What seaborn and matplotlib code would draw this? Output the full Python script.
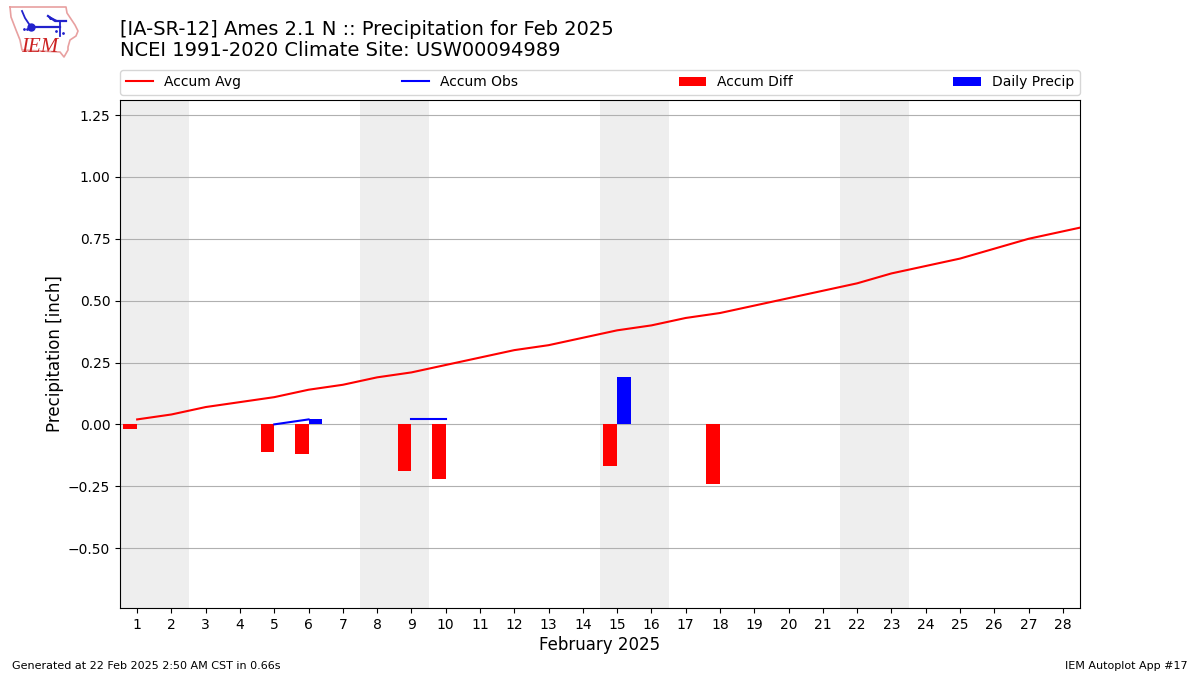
#!/usr/bin/env python
# coding=utf-8
import numpy as np
import pandas as pd
import matplotlib
matplotlib.use('Agg')
import matplotlib.pyplot as plt
import seaborn as sns

DAYS = list(range(1, 30))
ACCUM_AVG = [0.02, 0.04, 0.07, 0.09, 0.11, 0.14, 0.16, 0.19, 0.21, 0.24,
             0.27, 0.30, 0.32, 0.35, 0.38, 0.40, 0.43, 0.45, 0.48, 0.51,
             0.54, 0.57, 0.61, 0.64, 0.67, 0.71, 0.75, 0.78, 0.81]
OBS_DAYS = [5, 6, 9, 10]
OBS_VALUES = [0.0, 0.02, 0.02, 0.02]
OBS_SEGMENTS = [0, 0, 1, 1]
DIFF_VALUES = {1: -0.02, 5: -0.11, 6: -0.12, 9: -0.19, 10: -0.22,
               15: -0.17, 18: -0.24}
DAILY_VALUES = {6: 0.02, 15: 0.19}
WEEKENDS = [(0.5, 2.5), (7.5, 9.5), (14.5, 16.5), (21.5, 23.5)]
TITLE = ('[IA-SR-12] Ames 2.1 N :: Precipitation for Feb 2025\n'
         'NCEI 1991-2020 Climate Site: USW00094989')


def make_bar_frame():
    """return long frame of the two bar series, one row per day and series"""
    rows = []
    for day in DAYS[:-1]:
        rows.append((day, 'Accum Diff', DIFF_VALUES.get(day, np.nan)))
        rows.append((day, 'Daily Precip', DAILY_VALUES.get(day, np.nan)))
    return pd.DataFrame(rows, columns=['day', 'series', 'value'])


def draw_logo(fig):
    """rough redraw of the state outline logo, in pixel coordinates"""
    ax = fig.add_axes([0, 0, 1, 1], zorder=5)
    ax.set_xlim(0, 1200)
    ax.set_ylim(675, 0)
    ax.axis('off')
    ax.plot([10, 66, 67, 71, 75, 78, 76, 70, 68, 68, 64, 60, 22, 20, 16, 11, 10],
            [7, 7, 13, 19, 25, 31, 36, 40, 47, 50, 57, 52, 50, 40, 30, 17, 7],
            color='#e8a0a0', lw=1.2)
    ax.plot([22, 25, 31], [11, 18, 27], color='#2222cc', lw=1.3)
    ax.plot([31, 60], [27, 27], color='#2222cc', lw=1.6)
    ax.plot([60, 60], [21, 36], color='#2222cc', lw=1.3)
    ax.plot([48, 55, 66], [16, 21, 21], color='#2222cc', lw=1.6)
    ax.fill([47, 57, 50], [15, 20, 20], color='#2222cc', lw=0)
    ax.plot([31], [27], 'o', color='#2222cc', ms=5)
    ax.plot([24, 27, 56, 63], [29, 29, 31, 33], '.', color='#2222cc', ms=2)
    ax.text(21, 52, 'IEM', color='#cc2222', fontsize=15, style='italic',
            family='Liberation Serif')


def main():
    sns.set_style('ticks', rc={'text.color': 'black',
                               'axes.labelcolor': 'black',
                               'axes.edgecolor': 'black',
                               'xtick.color': 'black',
                               'ytick.color': 'black'})
    plt.rcParams['font.family'] = ['DejaVu Sans']
    plt.rcParams['lines.solid_capstyle'] = 'projecting'
    fig = plt.figure(figsize=(12, 6.75), dpi=100)
    ax = fig.add_axes([0.1, 0.0993, 0.8, 0.7526])

    for start, end in WEEKENDS:
        ax.axvspan(start, end, color='#eeeeee', lw=0, zorder=0)

    sns.barplot(data=make_bar_frame(), x='day', y='value', hue='series',
                hue_order=['Accum Diff', 'Daily Precip'],
                palette=['#ff0000', '#0000ff'], native_scale=True, width=0.8,
                gap=0, errorbar=None, saturation=1, linewidth=0, ax=ax,
                zorder=3)
    sns.lineplot(x=DAYS, y=ACCUM_AVG, color='#ff0000', label='Accum Avg',
                 ax=ax, zorder=4)
    sns.lineplot(x=OBS_DAYS, y=OBS_VALUES, units=OBS_SEGMENTS, estimator=None,
                 color='#0000ff', label='Accum Obs', ax=ax, zorder=4)

    ax.set_xlim(0.5, 28.5)
    ax.set_ylim(-0.742, 1.311)
    ax.set_xticks(DAYS[:-1])
    ax.set_yticks([-0.5, -0.25, 0, 0.25, 0.5, 0.75, 1.0, 1.25])
    ax.set_yticklabels(['\u22120.50', '\u22120.25', '0.00', '0.25', '0.50',
                        '0.75', '1.00', '1.25'])
    ax.tick_params(labelsize=10)
    ax.grid(True, axis='y', color='#b0b0b0', lw=0.8, zorder=1)
    ax.set_axisbelow(True)
    ax.set_xlabel('February 2025', fontsize=12, labelpad=3)
    ax.set_ylabel('Precipitation [inch]', fontsize=12, labelpad=3.2)
    ax.set_title(TITLE, loc='left', fontsize=14, pad=32, linespacing=1.13)

    handles, labels = ax.get_legend_handles_labels()
    by_label = dict(zip(labels, handles))
    order = ['Accum Avg', 'Accum Obs', 'Accum Diff', 'Daily Precip']
    ax.legend([by_label[name] for name in order], order, ncol=4, mode='expand',
              loc='lower left', bbox_to_anchor=(0, 1.01, 1, 0.05), fontsize=10,
              borderaxespad=0)

    fig.text(0.01, 0.0059, 'Generated at 22 Feb 2025 2:50 AM CST in 0.66s',
             fontsize=8, va='bottom')
    fig.text(0.99, 0.0059, 'IEM Autoplot App #17', fontsize=8, ha='right',
             va='bottom')
    draw_logo(fig)
    fig.savefig('out.png', dpi=100)


if __name__ == '__main__':
    main()
